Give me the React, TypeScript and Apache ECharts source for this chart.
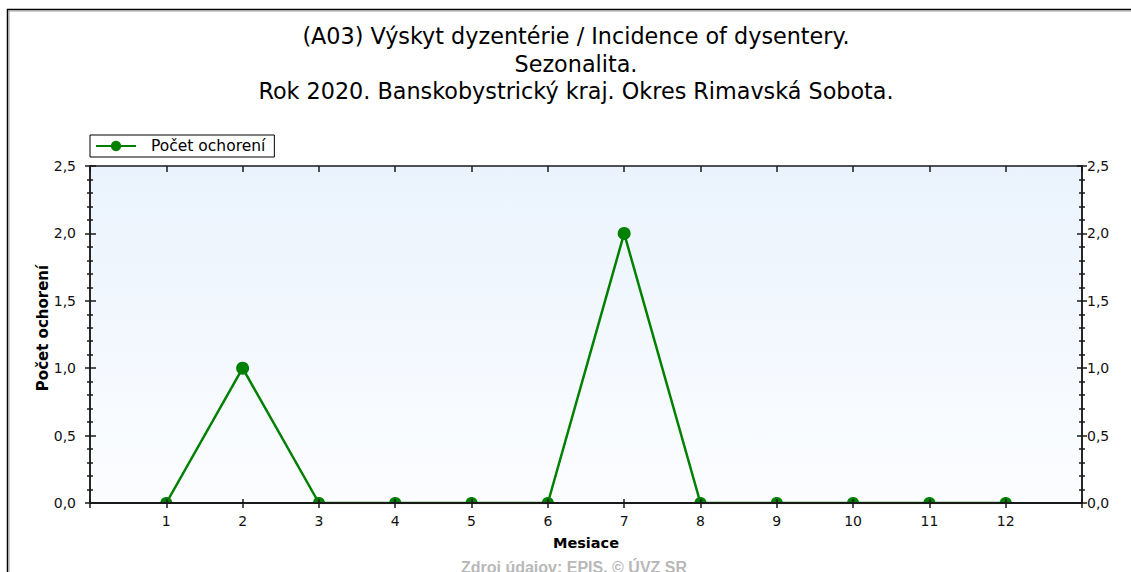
import React, { useEffect, useRef } from 'react';
import * as echarts from 'echarts';

const titleLines = [
  '(A03) Výskyt dyzentérie / Incidence of dysentery.',
  'Sezonalita.',
  'Rok 2020. Banskobystrický kraj. Okres Rimavská Sobota.',
];
const months = [1, 2, 3, 4, 5, 6, 7, 8, 9, 10, 11, 12];
const cases = [0, 1, 0, 0, 0, 0, 2, 0, 0, 0, 0, 0];
const seriesName = 'Počet ochorení';
const xAxisName = 'Mesiace';
const yAxisName = 'Počet ochorení';
const sourceText = 'Zdroj údajov: EPIS, © ÚVZ SR';
const xMin = 0;
const xMax = 13;
const yMin = 0;
const yMax = 2.5;
const yStep = 0.5;

const FONT = '"DejaVu Sans", Verdana, sans-serif';
const FONT_NARROW = '"Liberation Sans", Arial, sans-serif';
const GREEN = '#008000';
const AXIS = '#1a1a1a';
const DOME = 'path://M0,10 C0,-3 20,-3 20,10 Z';

export default function App() {
  const ref = useRef<HTMLDivElement>(null);

  useEffect(() => {
    document.body.style.margin = '0';
    if (!ref.current) return;
    const chart = echarts.init(ref.current, undefined, { renderer: 'svg' });

    const yFmt = (v: number) => v.toFixed(1).replace('.', ',');
    const xFmt = (v: number) => (months.includes(v) ? String(v) : '');

    const yBase = {
      type: 'value' as const,
      min: yMin,
      max: yMax,
      interval: yStep,
      splitLine: { show: false },
    };
    const tickStyle = { color: AXIS, width: 1.5 };

    const seriesData = months.map((m, i) => {
      const v = cases[i];
      if (v === 0) {
        return {
          value: [m, v],
          symbol: DOME,
          symbolSize: [12, 6],
          symbolOffset: [0, -3],
        };
      }
      return { value: [m, v], symbol: 'circle', symbolSize: 13 };
    });

    chart.setOption({
      animation: false,
      backgroundColor: '#ffffff',
      title: [
        {
          text: titleLines.join('\n'),
          left: 576,
          top: 22.5,
          padding: 0,
          textAlign: 'center',
          textStyle: {
            fontFamily: FONT,
            fontSize: 22.3,
            fontWeight: 'normal',
            color: '#000',
            lineHeight: 27.5,
          },
        },
        {
          text: sourceText,
          left: 574,
          top: 559,
          padding: 0,
          textAlign: 'center',
          textStyle: {
            fontFamily: FONT_NARROW,
            fontSize: 16,
            fontWeight: 'bold',
            color: '#b8b8b8',
          },
        },
      ],
      legend: {
        left: 90,
        top: 135,
        itemWidth: 40,
        itemHeight: 13,
        backgroundColor: '#fff',
        borderColor: '#000',
        borderWidth: 1,
        borderRadius: 0,
        padding: [3, 9, 3, 5],
        textStyle: {
          fontFamily: FONT,
          fontSize: 15.5,
          color: '#000',
          padding: [0, 0, 0, 10],
        },
        data: [seriesName],
      },
      graphic: [
        {
          type: 'rect',
          silent: true,
          shape: { x: 7.5, y: 9.5, width: 1400, height: 900 },
          style: { fill: 'none', stroke: '#000', lineWidth: 1.5 },
        },
        {
          type: 'rect',
          silent: true,
          shape: { x: 9, y: 11, width: 1400, height: 900 },
          style: { fill: 'none', stroke: '#9a9a9a', lineWidth: 1 },
        },
      ],
      grid: {
        left: 90,
        top: 166,
        right: 49,
        bottom: 69,
        show: true,
        backgroundColor: new echarts.graphic.LinearGradient(0, 0, 0, 1, [
          { offset: 0, color: '#eaf3fd' },
          { offset: 1, color: '#fcfdff' },
        ]),
        borderColor: AXIS,
        borderWidth: 1.5,
      },
      xAxis: [
        {
          type: 'value',
          position: 'bottom',
          min: xMin,
          max: xMax,
          interval: 1,
          z: 5,
          splitLine: { show: false },
          axisLine: { show: true, onZero: false, lineStyle: { color: AXIS, width: 2 } },
          axisTick: { show: true, length: 5, lineStyle: tickStyle },
          axisLabel: {
            formatter: xFmt,
            margin: 11,
            color: '#111',
            fontFamily: FONT,
            fontSize: 14,
          },
          name: xAxisName,
          nameLocation: 'middle',
          nameGap: 32,
          nameTextStyle: { fontFamily: FONT, fontSize: 14.5, fontWeight: 'bold', color: '#000' },
        },
        {
          type: 'value',
          position: 'bottom',
          min: xMin,
          max: xMax,
          interval: 1,
          z: 5,
          splitLine: { show: false },
          axisLine: { show: false, onZero: false },
          axisTick: { show: true, inside: true, length: 4, lineStyle: tickStyle },
          axisLabel: { show: false },
        },
        {
          type: 'value',
          position: 'top',
          min: xMin,
          max: xMax,
          interval: 1,
          splitLine: { show: false },
          axisLine: { show: false, onZero: false },
          axisTick: { show: true, inside: true, length: 6, lineStyle: tickStyle },
          axisLabel: { show: false },
        },
      ],
      yAxis: [
        {
          ...yBase,
          position: 'left',
          axisLine: { show: true, onZero: false, lineStyle: { color: AXIS, width: 1.5 } },
          axisTick: { show: true, length: 5, lineStyle: tickStyle },
          minorTick: { show: true, splitNumber: 5, length: 3, lineStyle: tickStyle },
          axisLabel: {
            formatter: yFmt,
            margin: 14,
            color: '#111',
            fontFamily: FONT,
            fontSize: 14,
          },
          name: yAxisName,
          nameLocation: 'middle',
          nameGap: 40,
          nameMoveOverlap: false,
          nameTextStyle: {
            fontFamily: FONT,
            fontSize: 15,
            fontWeight: 'bold',
            color: '#000',
            padding: [0, 0, 0, 13],
          },
        },
        {
          ...yBase,
          position: 'left',
          axisLine: { show: false, onZero: false },
          axisTick: { show: true, inside: true, length: 6, lineStyle: tickStyle },
          minorTick: { show: true, splitNumber: 5, length: 3, lineStyle: tickStyle },
          axisLabel: { show: false },
        },
        {
          ...yBase,
          position: 'right',
          axisLine: { show: true, onZero: false, lineStyle: { color: AXIS, width: 1.5 } },
          axisTick: { show: true, length: 5, lineStyle: tickStyle },
          minorTick: { show: true, splitNumber: 5, length: 3, lineStyle: tickStyle },
          axisLabel: {
            formatter: yFmt,
            margin: 5,
            color: '#111',
            fontFamily: FONT,
            fontSize: 14,
          },
        },
        {
          ...yBase,
          position: 'right',
          axisLine: { show: false, onZero: false },
          axisTick: { show: true, inside: true, length: 5, lineStyle: tickStyle },
          minorTick: { show: true, splitNumber: 5, length: 3, lineStyle: tickStyle },
          axisLabel: { show: false },
        },
      ],
      series: [
        {
          name: seriesName,
          type: 'line',
          xAxisIndex: 0,
          yAxisIndex: 0,
          data: seriesData,
          symbol: 'circle',
          symbolSize: 13,
          showAllSymbol: true,
          lineStyle: { color: GREEN, width: 2.5 },
          itemStyle: { color: GREEN },
          emphasis: { disabled: true },
          z: 3,
        },
      ],
    });

    return () => chart.dispose();
  }, []);

  return <div ref={ref} style={{ width: 1131, height: 572 }} />;
}
